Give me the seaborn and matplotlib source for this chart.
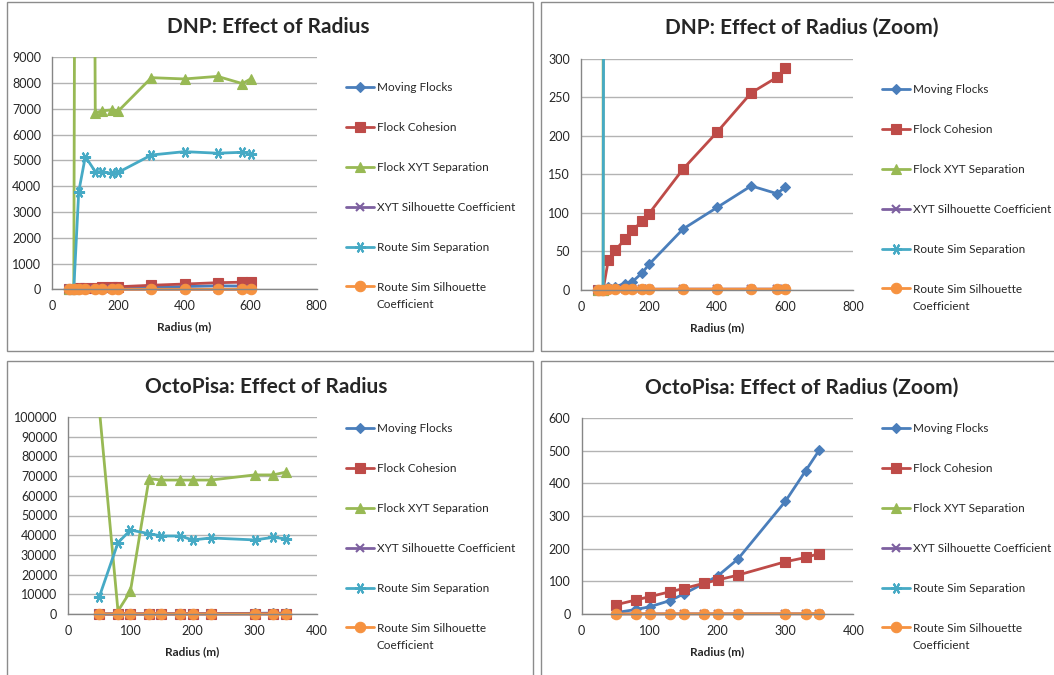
import pandas as pd
import matplotlib.pyplot as plt
import seaborn as sns
from matplotlib.patches import Rectangle
from matplotlib.ticker import FuncFormatter, MultipleLocator

# ---- data ----
series_names = ["Moving Flocks", "Flock Cohesion", "Flock XYT Separation",
                "XYT Silhouette Coefficient", "Route Sim Separation",
                "Route Sim Silhouette"]

dnp_radius = [50, 65, 80, 100, 130, 150, 180, 200, 300, 400, 500, 575, 600]
dnp_moving_flocks = [0, 1, 3, 4, 8, 10, 22, 33, 79, 107, 135, 125, 133]
dnp_flock_cohesion = [0, 0, 38, 51, 66, 77, 89, 99, 157, 205, 256, 276, 288]
dnp_flock_xyt_sep = [0, 0, 68000, 95000, 6850, 6920, 6960, 6920, 8210, 8160, 8260, 7980, 8160]
dnp_xyt_silhouette = [0.1, 0.2, 0.5, 0.6, 0.6, 0.7, 0.7, 0.7, 0.8, 0.8, 0.8, 0.8, 0.8]
dnp_route_sim_sep = [0, 0, 3790, 5150, 4565, 4565, 4500, 4540, 5210, 5340, 5280, 5315, 5240]
dnp_route_sim_sil = [0.1, 0.2, 0.4, 0.5, 0.5, 0.6, 0.6, 0.6, 0.7, 0.7, 0.7, 0.7, 0.7]

octo_radius = [50, 80, 100, 130, 150, 180, 200, 230, 300, 330, 350]
octo_moving_flocks = [4, 14, 22, 41, 61, 94, 116, 168, 345, 439, 502]
octo_flock_cohesion = [28, 43, 53, 68, 78, 94, 104, 119, 160, 173, 185]
octo_flock_xyt_sep = [104000, 1500, 11500, 68700, 68000, 68000, 68000, 68000, 70600, 70600, 72000]
octo_xyt_silhouette = [0.3, 0.4, 0.5, 0.5, 0.6, 0.6, 0.6, 0.6, 0.7, 0.7, 0.7]
octo_route_sim_sep = [8800, 36200, 42600, 40800, 39600, 39600, 37600, 38600, 37600, 38900, 38200]
octo_route_sim_sil = [0.2, 0.3, 0.4, 0.4, 0.5, 0.5, 0.5, 0.5, 0.6, 0.6, 0.6]

colors = ["#4A7EBB", "#BE4B48", "#98B954", "#7D60A0", "#46AAC5", "#F69240"]
markers = ["D", "s", "^", "x", (6, 2, 90), "o"]
msizes = [5, 7, 7.5, 6, 8, 7.5]

sns.set_style("white")
plt.rcParams["font.family"] = ["Lato", "DejaVu Sans"]


def long_table(radius, cols):
    frames = []
    for name, vals in zip(series_names, cols):
        frames.append(pd.DataFrame({"Radius": radius, "value": vals, "series": name}))
    return pd.concat(frames, ignore_index=True)


dnp = long_table(dnp_radius, [dnp_moving_flocks, dnp_flock_cohesion, dnp_flock_xyt_sep,
                              dnp_xyt_silhouette, dnp_route_sim_sep, dnp_route_sim_sil])
octo = long_table(octo_radius, [octo_moving_flocks, octo_flock_cohesion, octo_flock_xyt_sep,
                                octo_xyt_silhouette, octo_route_sim_sep, octo_route_sim_sil])

fig = plt.figure(figsize=(10.54, 6.75), dpi=100)
W, H = 1054, 675


def px_axes(l, t, r, b):
    return fig.add_axes([l / W, 1 - b / H, (r - l) / W, (b - t) / H])


panels = [
    dict(box=(52.3, 57.3, 316.7, 289.3), df=dnp, title="DNP: Effect of Radius",
         tx=268, ty=27, ymax=9000, ystep=1000, xmax=800, xstep=200, leg=(346, 82)),
    dict(box=(581, 59, 853.3, 289.7), df=dnp, title="DNP: Effect of Radius (Zoom)",
         tx=802, ty=28, ymax=300, ystep=50, xmax=800, xstep=200, leg=(882, 84)),
    dict(box=(68.3, 417, 316.7, 614), df=octo, title="OctoPisa: Effect of Radius",
         tx=266, ty=387, ymax=100000, ystep=10000, xmax=400, xstep=100, leg=(346, 423)),
    dict(box=(581.7, 418, 853.3, 614), df=octo, title="OctoPisa: Effect of Radius (Zoom)",
         tx=802, ty=388, ymax=600, ystep=100, xmax=400, xstep=100, leg=(882, 423)),
]

# panel frames
for (l, t, r, b) in [(7, 2, 533, 351), (541, 2, 1060, 351), (7, 361, 533, 680), (541, 361, 1060, 680)]:
    fig.add_artist(Rectangle((l / W, 1 - b / H), (r - l) / W, (b - t) / H,
                             transform=fig.transFigure, fill=False,
                             edgecolor="#8C8C8C", lw=1))

for p in panels:
    ax = px_axes(*p["box"])
    df = p["df"]
    for i, name in enumerate(series_names):
        sub = df[df["series"] == name]
        thin = markers[i] == "x" or isinstance(markers[i], tuple)
        sns.lineplot(data=sub, x="Radius", y="value", ax=ax, color=colors[i],
                     marker=markers[i], markersize=msizes[i], markeredgecolor=colors[i],
                     markeredgewidth=1.5 if thin else 0.8,
                     lw=2, label=name, estimator=None)
    ax.set_xlim(0, p["xmax"])
    ax.set_ylim(0, p["ymax"])
    ax.xaxis.set_major_locator(MultipleLocator(p["xstep"]))
    ax.yaxis.set_major_locator(MultipleLocator(p["ystep"]))
    ax.yaxis.set_major_formatter(FuncFormatter(lambda v, _: "%d" % v))
    ax.yaxis.grid(True, color="#B3B3B3", lw=1)
    ax.xaxis.grid(False)
    for s in ("top", "right"):
        ax.spines[s].set_visible(False)
    for s in ("left", "bottom"):
        ax.spines[s].set_color("#868686")
        ax.spines[s].set_linewidth(1)
    ax.tick_params(axis="both", direction="out", length=5, width=1, color="#868686",
                   labelsize=9, labelcolor="#262626", pad=3)
    ax.set_ylabel("")
    ax.set_xlabel("Radius (m)", fontsize=8.5, fontweight="bold", labelpad=6.5)
    # lines may overflow the top (clipped) but markers hang below the baseline
    for ln in ax.lines:
        ln.set_clip_path(Rectangle((-0.05, -0.1), 1.1, 1.1, transform=ax.transAxes))
    fig.text(p["tx"] / W, 1 - p["ty"] / H, p["title"], ha="center", va="center",
             fontsize=15, fontweight="bold")
    handles, labels = ax.get_legend_handles_labels()
    lx, ly = p["leg"]
    leg = ax.legend(handles, labels, loc="upper left", bbox_to_anchor=(lx / W, 1 - ly / H),
                    bbox_transform=fig.transFigure, frameon=False, fontsize=8.5,
                    handlelength=2.4, handletextpad=0.2, labelspacing=2.45, borderpad=0,
                    borderaxespad=0)
    # second line of the last legend label sits under the first, as in Excel
    ax.annotate("Coefficient", xy=(0, 0), xycoords=leg.get_texts()[-1],
                xytext=(0, -4.5), textcoords="offset points", va="top", ha="left",
                fontsize=8.5, color="#262626", zorder=10, annotation_clip=False)

fig.savefig("out.png", dpi=100)
